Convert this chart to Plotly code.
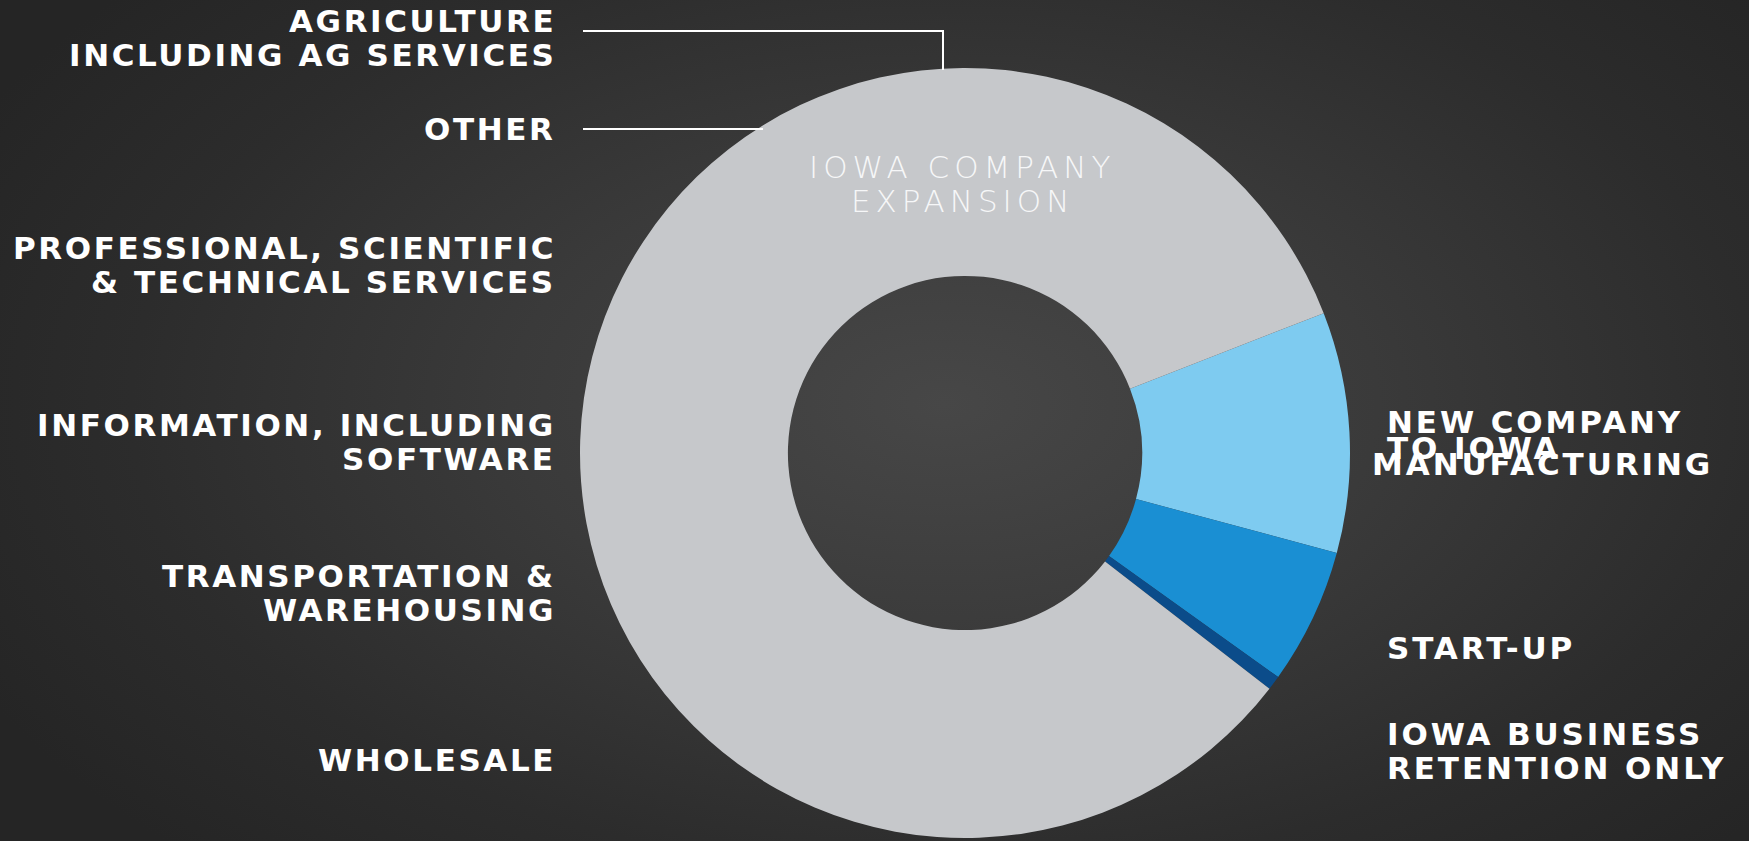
import plotly.graph_objects as go

W, H = 1749, 841

# ---- data ----
project_types = ["NEW COMPANY TO IOWA", "START-UP", "IOWA BUSINESS RETENTION ONLY", "IOWA COMPANY EXPANSION"]
project_share = [10.1, 5.7, 0.6, 83.6]
slice_colors = ["#7ecbf0", "#1a8fd3", "#0b4c8a", "#c6c8cb"]

left_labels = [
    ["AGRICULTURE", "INCLUDING AG SERVICES"],
    ["OTHER"],
    ["PROFESSIONAL, SCIENTIFIC", "& TECHNICAL SERVICES"],
    ["INFORMATION, INCLUDING", "SOFTWARE"],
    ["TRANSPORTATION &", "WAREHOUSING"],
    ["WHOLESALE"],
]
right_labels = [
    ["NEW COMPANY"],
    ["TO IOWA"],
    ["MANUFACTURING"],
    ["START-UP"],
    ["IOWA BUSINESS", "RETENTION ONLY"],
]
center_label = ["IOWA COMPANY", "EXPANSION"]

# ---- layout positions (pixels) ----
left_y = [21, 129, 248, 425, 576, 760]
left_x = 558
right_y = [422, 448, 464, 648, 734]
right_x = [1385, 1385, 1370, 1385, 1385]
line_pitch = 34
center_xy = (962, 167)

pie_cx, pie_cy, pie_r = 965, 453, 385


def px(x):
    return x / W


def py(y):
    return 1 - y / H


def spaced(t, s):
    return f'<span style="letter-spacing:{s}px">{t}</span>'


fig = go.Figure()
fig.add_trace(go.Pie(
    labels=project_types,
    values=project_share,
    sort=False,
    direction="clockwise",
    rotation=68.7,
    hole=0.46,
    marker=dict(colors=slice_colors, line=dict(width=0)),
    textinfo="none",
    hoverinfo="label+percent",
    showlegend=False,
    domain=dict(x=[px(pie_cx - pie_r), px(pie_cx + pie_r)],
                y=[py(pie_cy + pie_r), py(pie_cy - pie_r)]),
))

label_font = dict(family="DejaVu Sans", size=31, color="#ffffff", weight="bold")
annotations = []
for lines, y0 in zip(left_labels, left_y):
    for i, t in enumerate(lines):
        annotations.append(dict(x=px(left_x), y=py(y0 + i * line_pitch), xref="paper", yref="paper",
                                text=spaced(t, 2.6), showarrow=False, xanchor="right", yanchor="middle",
                                font=label_font))
for lines, y0, x0 in zip(right_labels, right_y, right_x):
    for i, t in enumerate(lines):
        annotations.append(dict(x=px(x0), y=py(y0 + i * line_pitch), xref="paper", yref="paper",
                                text=spaced(t, 2.9), showarrow=False, xanchor="left", yanchor="middle",
                                font=label_font))
for i, t in enumerate(center_label):
    annotations.append(dict(x=px(center_xy[0]), y=py(center_xy[1] + i * line_pitch), xref="paper", yref="paper",
                            text=spaced(t, 5), showarrow=False, xanchor="center", yanchor="middle",
                            font=dict(family="DejaVu Sans", size=31, color="#f6f7f8", weight=200)))

shapes = [
    dict(type="path", xref="paper", yref="paper",
         path=f"M {px(583)} {py(31)} L {px(943)} {py(31)} L {px(943)} {py(70)}",
         line=dict(color="#ffffff", width=2)),
    dict(type="line", xref="paper", yref="paper",
         x0=px(583), y0=py(129), x1=px(763), y1=py(129),
         line=dict(color="#ffffff", width=2)),
]

fig.update_layout(
    width=W, height=H,
    margin=dict(l=0, r=0, t=0, b=0),
    paper_bgcolor="rgba(0,0,0,0)",
    plot_bgcolor="rgba(0,0,0,0)",
    annotations=annotations,
    shapes=shapes,
)

bg_js = (
    "document.documentElement.style.background='#262626';"
    "document.body.style.margin='0';"
    "document.body.style.minHeight='841px';"
    "document.body.style.background='radial-gradient(ellipse 62% 75% at 54% 48%, #474747 0%, #3a3a3a 40%, #2c2c2c 75%, #252525 100%)';"
)
fig.write_html("out.html", config={"displayModeBar": False}, post_script=bg_js)
